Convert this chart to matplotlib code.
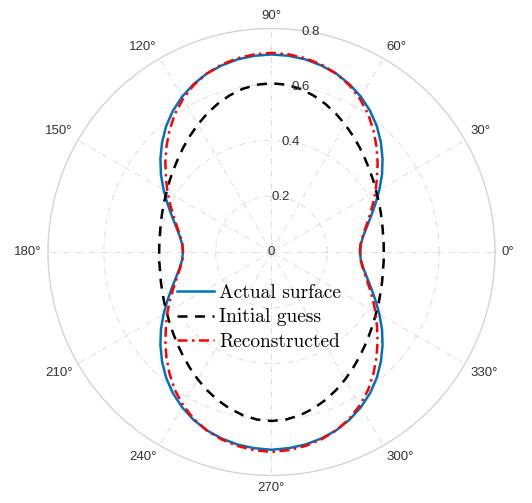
import numpy as np
import matplotlib.pyplot as plt

# polar samples every 5 degrees, 0..355
theta_deg = np.arange(0, 360, 5)

actual_r = [0.317, 0.321, 0.334, 0.354, 0.380, 0.411, 0.446, 0.483, 0.519, 0.554,
            0.587, 0.616, 0.641, 0.662, 0.679, 0.691, 0.700, 0.705, 0.707,
            0.705, 0.700, 0.691, 0.679, 0.662, 0.641, 0.616, 0.587, 0.554,
            0.519, 0.483, 0.446, 0.411, 0.380, 0.354, 0.334, 0.321, 0.317,
            0.321, 0.334, 0.354, 0.380, 0.411, 0.446, 0.483, 0.519, 0.554,
            0.587, 0.616, 0.641, 0.662, 0.679, 0.691, 0.700, 0.705, 0.708,
            0.705, 0.700, 0.691, 0.679, 0.662, 0.641, 0.616, 0.587, 0.554,
            0.519, 0.483, 0.446, 0.411, 0.380, 0.354, 0.334, 0.321]

initial_r = [0.402, 0.403, 0.405, 0.410, 0.416, 0.424, 0.433, 0.445, 0.458, 0.473,
             0.490, 0.508, 0.527, 0.546, 0.564, 0.580, 0.593, 0.601, 0.604,
             0.601, 0.593, 0.580, 0.564, 0.546, 0.527, 0.508, 0.490, 0.473,
             0.458, 0.445, 0.433, 0.424, 0.416, 0.410, 0.405, 0.403, 0.402,
             0.403, 0.405, 0.410, 0.416, 0.424, 0.433, 0.445, 0.458, 0.473,
             0.490, 0.508, 0.527, 0.546, 0.564, 0.580, 0.593, 0.602, 0.605,
             0.602, 0.593, 0.580, 0.564, 0.546, 0.527, 0.508, 0.490, 0.473,
             0.458, 0.445, 0.433, 0.424, 0.416, 0.410, 0.405, 0.403]

recon_r = [0.317, 0.320, 0.332, 0.350, 0.373, 0.400, 0.430, 0.461, 0.496, 0.532,
           0.568, 0.603, 0.633, 0.659, 0.679, 0.694, 0.704, 0.710, 0.713,
           0.710, 0.704, 0.694, 0.679, 0.659, 0.633, 0.603, 0.568, 0.532,
           0.496, 0.461, 0.430, 0.400, 0.373, 0.350, 0.332, 0.320, 0.317,
           0.320, 0.332, 0.350, 0.373, 0.400, 0.430, 0.461, 0.496, 0.532,
           0.568, 0.603, 0.633, 0.659, 0.679, 0.694, 0.705, 0.712, 0.716,
           0.712, 0.705, 0.694, 0.679, 0.659, 0.633, 0.603, 0.568, 0.532,
           0.496, 0.461, 0.430, 0.400, 0.373, 0.350, 0.332, 0.320]

r_ticks = [0, 0.2, 0.4, 0.6, 0.8]
theta_ticks = list(range(0, 360, 30))


def closed(values):
    return np.append(values, values[0])


th = np.deg2rad(closed(theta_deg))

fig = plt.figure(figsize=(5.32, 5.03), dpi=100)
ax = fig.add_axes([0.0902, 0.0547, 0.8402, 0.8887], projection='polar')

ax.plot(th, closed(actual_r), color='#0072BD', lw=1.8, label='Actual surface')
ax.plot(th, closed(initial_r), color='black', lw=1.8, ls=(0, (4, 3)),
        label='Initial guess')
ax.plot(th, closed(recon_r), color='#FF0000', lw=1.8, ls=(0, (4, 1.8, 1, 1.8)),
        label='Reconstructed')

ax.set_ylim(0, 0.8)
ax.set_yticks(r_ticks[1:-1])
ax.set_yticklabels([])
ax.set_xticks(np.deg2rad(theta_ticks))
ax.set_xticklabels([])
ax.tick_params(length=0)
ax.grid(True, color='#dcdcdc', lw=0.7, ls=(0, (6, 3, 1, 3)))
ax.spines['polar'].set_color('#d4d4d4')
ax.spines['polar'].set_linewidth(1.0)

tick_font = dict(family='Liberation Sans', size=9.5, color='#333333')

# radius labels along the 80 degree line
for r in r_ticks:
    ax.text(np.deg2rad(80), r, f'{r:g}', ha='center', va='center', **tick_font)

# angle labels just outside the rim
for t in theta_ticks:
    c, s = np.cos(np.deg2rad(t)), np.sin(np.deg2rad(t))
    ha = 'left' if c > 0.1 else ('right' if c < -0.1 else 'center')
    va = 'bottom' if s > 0.1 else ('top' if s < -0.1 else 'center')
    ax.text(np.deg2rad(t), 0.822, f'{t}°', ha=ha, va=va, **tick_font)

ax.legend(loc='upper left', bbox_to_anchor=(177 / 532, 1 - 284 / 503),
          bbox_transform=fig.transFigure, frameon=False, borderpad=0,
          borderaxespad=0, handlelength=1.9, handletextpad=0.27,
          labelspacing=0.33, prop={'family': 'cmr10', 'size': 14})

fig.savefig('out.png', dpi=100)
